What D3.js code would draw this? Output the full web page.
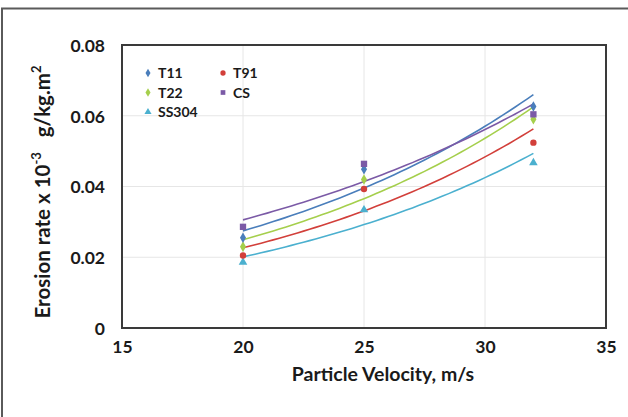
<!DOCTYPE html>
<html>
<head>
<meta charset="utf-8">
<script src="https://cdn.jsdelivr.net/npm/d3@7"></script>
<style>
  body { margin: 0; background: #fff; }
  svg { display: block; font-family: Lato, "Open Sans", sans-serif; font-weight: bold; }
</style>
</head>
<body>
<svg id="chart"></svg>
<script>
const width = 628;
const height = 417;

// velocities, m/s
const velocities = [20, 25, 32];

// erosion rate per material
const seriesNames = ["T11", "T91", "T22", "CS", "SS304"];
const t11 = [0.0255, 0.0449, 0.0626];
const t91 = [0.0205, 0.0393, 0.0524];
const t22 = [0.0230, 0.0420, 0.0590];
const cs = [0.0286, 0.0464, 0.0604];
const ss304 = [0.0186, 0.0334, 0.0467];

const xTicks = [15, 20, 25, 30, 35];
const yTicks = [0, 0.02, 0.04, 0.06, 0.08];

const colors = new Map();
colors.set("T11", "#4a7ebb");
colors.set("T91", "#d23f3a");
colors.set("T22", "#a5cf4c");
colors.set("CS", "#7b5aa6");
colors.set("SS304", "#4bb0cf");

const symbols = new Map();
symbols.set("T11", d3.symbolDiamond);
symbols.set("T91", d3.symbolCircle);
symbols.set("T22", d3.symbolDiamond);
symbols.set("CS", d3.symbolSquare);
symbols.set("SS304", d3.symbolTriangle);

const values = new Map();
values.set("T11", t11);
values.set("T91", t91);
values.set("T22", t22);
values.set("CS", cs);
values.set("SS304", ss304);

const margin = { left: 122, right: 20, top: 45, bottom: 89 };

const svg = d3.select("#chart").attr("width", width).attr("height", height);

// outer frame (left and top edges only)
svg.append("rect").attr("width", width).attr("height", height).attr("fill", "#fff");
svg.append("path")
  .attr("d", `M2,${height} V8.5 H${width}`)
  .attr("fill", "none")
  .attr("stroke", "#5a5a5a")
  .attr("stroke-width", 2);

const x = d3.scaleLinear().domain([15, 35]).range([margin.left, width - margin.right - 2]);
const y = d3.scaleLinear().domain([0, 0.08]).range([height - margin.bottom, margin.top]);

// grid
svg.append("g")
  .selectAll("line")
  .data(xTicks.slice(1, -1))
  .join("line")
  .attr("x1", (d) => x(d))
  .attr("x2", (d) => x(d))
  .attr("y1", y(0))
  .attr("y2", y(0.08))
  .attr("stroke", "#e6e6e6")
  .attr("stroke-width", 1);
svg.append("g")
  .selectAll("line")
  .data(yTicks.slice(1, -1))
  .join("line")
  .attr("x1", x(15))
  .attr("x2", x(35))
  .attr("y1", (d) => y(d))
  .attr("y2", (d) => y(d))
  .attr("stroke", "#e6e6e6")
  .attr("stroke-width", 1);

// axes (labels only)
const xAxis = svg.append("g")
  .attr("transform", `translate(0,${y(0)})`)
  .call(d3.axisBottom(x).tickValues(xTicks).tickSize(0).tickPadding(13).tickFormat(d3.format("d")));
const yAxis = svg.append("g")
  .attr("transform", `translate(${x(15)},0)`)
  .call(d3.axisLeft(y).tickValues(yTicks).tickSize(0).tickPadding(17)
    .tickFormat((d) => (d === 0 ? "0" : d3.format(".2f")(d))));
[xAxis, yAxis].forEach((a) => {
  a.select(".domain").remove();
  a.selectAll("text")
    .attr("font-family", "Lato, sans-serif")
    .attr("font-weight", "bold")
    .attr("font-size", 17.5)
    .attr("fill", "#1a1a1a");
});
yAxis.selectAll("text").attr("dy", "0.36em");

// clip the last x label like the original
svg.append("rect")
  .attr("x", 619)
  .attr("y", y(0) + 10)
  .attr("width", 9)
  .attr("height", 25)
  .attr("fill", "#fff");

// exponential trendline fit (least squares on ln y)
const expFit = (xs, ys) => {
  const ly = ys.map((v) => Math.log(v));
  const mx = d3.mean(xs);
  const my = d3.mean(ly);
  let sxy = 0;
  let sxx = 0;
  xs.forEach((v, i) => {
    sxy += (v - mx) * (ly[i] - my);
    sxx += (v - mx) * (v - mx);
  });
  const b = sxy / sxx;
  const a = my - b * mx;
  return (v) => Math.exp(a + b * v);
};

const line = d3.line().x((d) => x(d[0])).y((d) => y(d[1]));
const lines = svg.append("g");
const lineOrder = ["SS304", "T91", "T22", "T11", "CS"];
lineOrder.forEach((name) => {
  const f = expFit(velocities, values.get(name));
  const xs = d3.range(velocities[0], velocities[velocities.length - 1] + 0.001, 0.25);
  lines.append("path")
    .datum(xs.map((v) => [v, f(v)]))
    .attr("d", line)
    .attr("fill", "none")
    .attr("stroke", colors.get(name))
    .attr("stroke-width", 1.6);
});

// markers
const markers = svg.append("g");
["T22", "SS304", "T91", "T11", "CS"].forEach((name) => {
  markers.append("g")
    .selectAll("path")
    .data(values.get(name).map((v, i) => [velocities[i], v]))
    .join("path")
    .attr("transform", (d) => `translate(${x(d[0])},${y(d[1])})`)
    .attr("d", d3.symbol().type(symbols.get(name)).size(name === "CS" ? 40 : 32))
    .attr("fill", colors.get(name));
});

// plot border
svg.append("rect")
  .attr("x", x(15))
  .attr("y", y(0.08))
  .attr("width", x(35) - x(15))
  .attr("height", y(0) - y(0.08))
  .attr("fill", "none")
  .attr("stroke", "#3a3a3a")
  .attr("stroke-width", 2);

// legend
const legendPos = [
  { name: "T11", col: 0, row: 0 },
  { name: "T91", col: 1, row: 0 },
  { name: "T22", col: 0, row: 1 },
  { name: "CS", col: 1, row: 1 },
  { name: "SS304", col: 0, row: 2 },
];
const legend = svg.append("g").attr("transform", "translate(148,73)");
const items = legend.selectAll("g")
  .data(legendPos)
  .join("g")
  .attr("transform", (d) => `translate(${d.col * 75},${d.row * 19.5})`);
items.append("path")
  .attr("d", (d) => d3.symbol().type(symbols.get(d.name)).size(22)())
  .attr("fill", (d) => colors.get(d.name));
items.append("text")
  .attr("x", 10)
  .attr("y", 5)
  .attr("font-size", 14)
  .attr("fill", "#1a1a1a")
  .text((d) => d.name);

// axis titles
svg.append("text")
  .attr("x", 383)
  .attr("y", 381)
  .attr("text-anchor", "middle")
  .attr("font-size", 19.5)
  .attr("fill", "#1a1a1a")
  .text("Particle Velocity, m/s");

const yTitle = svg.append("text")
  .attr("transform", "translate(50,192) rotate(-90)")
  .attr("text-anchor", "middle")
  .attr("font-size", 20.5)
  .attr("fill", "#1a1a1a");
yTitle.append("tspan").text("Erosion rate x 10");
yTitle.append("tspan").attr("dy", -9).attr("font-size", 13).text("-3");
yTitle.append("tspan").attr("dy", 9).text("\u00A0\u00A0 g/kg.m");
yTitle.append("tspan").attr("dy", -9).attr("font-size", 13).text("2");
</script>
</body>
</html>
